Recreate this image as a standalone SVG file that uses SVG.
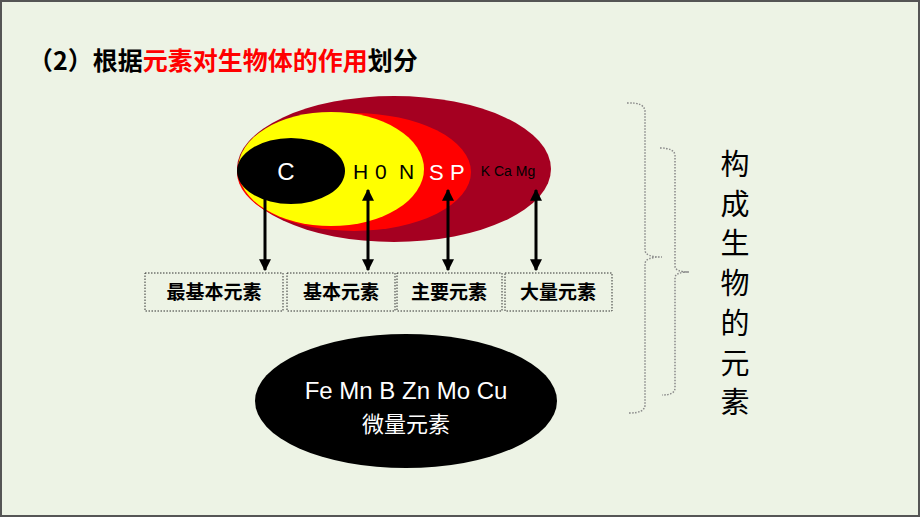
<svg xmlns="http://www.w3.org/2000/svg" width="920" height="517" viewBox="0 0 920 517">
<defs>
<style>
.cn{font-family:"Noto Sans CJK SC","Noto Sans",sans-serif}
.lat{font-family:"Liberation Sans",Arial,sans-serif}
.box{fill:none;stroke:#333;stroke-width:1;stroke-dasharray:1.5 1.5}
.brace{fill:none;stroke:#888;stroke-width:1.5;stroke-dasharray:1.5 1.5}
.arr{stroke:#000;stroke-width:3}
</style>
<marker id="ah" viewBox="0 0 10 10" refX="9" refY="5" markerWidth="4" markerHeight="4" orient="auto-start-reverse"><path d="M0,0L10,5L0,10z" fill="#000"/></marker>
</defs>
<rect x="1" y="1" width="918" height="515" fill="#EDF3E5" stroke="#555" stroke-width="2"/>
<text x="28" y="70" font-size="25" font-weight="bold" class="cn">（2）根据<tspan fill="#F00">元素对生物体的作用</tspan>划分</text>
<g id="ellipses">
<ellipse cx="394" cy="169" rx="157" ry="73" fill="#A50021"/>
<ellipse cx="354" cy="172" rx="117" ry="59" fill="#F00"/>
<ellipse cx="331" cy="169" rx="93" ry="57" fill="#FF0"/>
<ellipse cx="291" cy="171" rx="54" ry="33" fill="#000"/>
<text x="286" y="180" font-size="24" fill="#fff" class="lat" text-anchor="middle">C</text>
<text x="353" y="179" font-size="21" fill="#000" class="lat">H</text>
<text x="375" y="179" font-size="21" fill="#000" class="lat">0</text>
<text x="399" y="179" font-size="21" fill="#000" class="lat">N</text>
<text x="429" y="180" font-size="22" fill="#fff" class="lat">S</text>
<text x="450" y="180" font-size="22" fill="#fff" class="lat">P</text>
<text x="508" y="176" font-size="14" fill="#000" class="lat" text-anchor="middle">K Ca Mg</text>
</g>
<g id="connectors">
<line class="arr" x1="265" y1="198" x2="265" y2="270" marker-end="url(#ah)"/>
<line class="arr" x1="368" y1="190" x2="368" y2="270" marker-start="url(#ah)" marker-end="url(#ah)"/>
<line class="arr" x1="448" y1="190" x2="448" y2="270" marker-start="url(#ah)" marker-end="url(#ah)"/>
<line class="arr" x1="536" y1="190" x2="536" y2="270" marker-start="url(#ah)" marker-end="url(#ah)"/>
</g>
<g id="boxes" class="cn" font-size="19" font-weight="bold" text-anchor="middle">
<rect class="box" x="145" y="273" width="138" height="38"/><text x="214" y="299">最基本元素</text>
<rect class="box" x="287" y="273" width="108" height="38"/><text x="341" y="299">基本元素</text>
<rect class="box" x="397" y="273" width="105" height="38"/><text x="449" y="299">主要元素</text>
<rect class="box" x="505" y="273" width="107" height="38"/><text x="558" y="299">大量元素</text>
</g>
<g id="micro">
<ellipse cx="406" cy="401" rx="151" ry="67" fill="#000"/>
<text x="406" y="399" font-size="24" fill="#fff" class="lat" text-anchor="middle">Fe Mn B Zn Mo Cu</text>
<text x="406" y="432" font-size="22" fill="#fff" class="cn" text-anchor="middle">微量元素</text>
</g>
<g id="braces">
<path class="brace" d="M627,103 Q645,102 645,112 V250 Q645,257 662,257 Q645,257 645,264 V405 Q645,413 629,413"/>
<path class="brace" d="M660,148 Q675,148 675,156 V266 Q675,272 689,272 Q675,272 675,278 V388 Q675,395 662,395"/>
</g>
<g id="label" class="cn" font-size="29" text-anchor="middle">
<text x="735" y="175">构</text><text x="735" y="215">成</text><text x="735" y="254">生</text><text x="735" y="294">物</text><text x="735" y="334">的</text><text x="735" y="374">元</text><text x="735" y="413">素</text>
</g>
</svg>
